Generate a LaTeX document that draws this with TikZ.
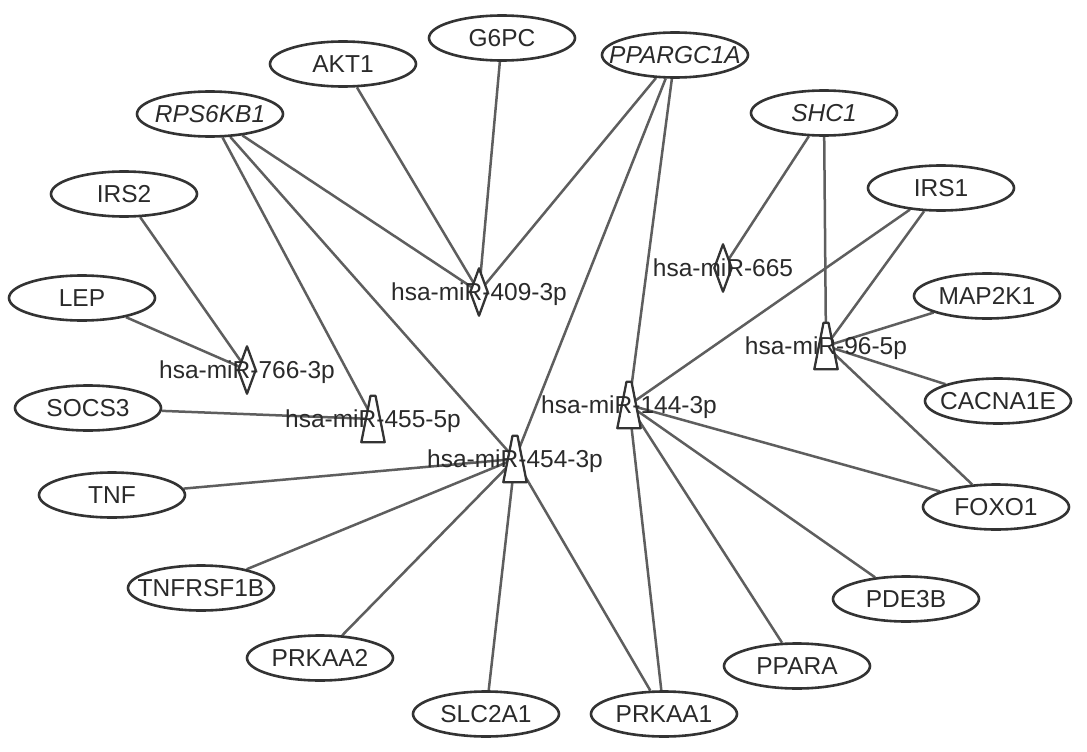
\documentclass[tikz,border=0pt]{standalone}
\usepackage{fontspec}
\setmainfont{Liberation Sans}
\usetikzlibrary{shapes.geometric}
\pgfdeclarelayer{bg}
\pgfsetlayers{bg,main}
\definecolor{edgegray}{HTML}{5E5E5E}
\definecolor{outl}{HTML}{333333}
\definecolor{txt}{HTML}{2A2A2A}
\newcommand{\zw}[1]{\makebox[0pt][c]{#1}}
\begin{document}
\begin{tikzpicture}[x=1pt,y=-1pt,
  gene/.style={ellipse, draw=outl, line width=2.6pt, fill=white,
    minimum width=146pt, minimum height=45pt, inner sep=0pt, text=txt,
    font=\fontsize{24.5}{28}\selectfont},
  mir/.style={inner sep=0pt, minimum width=17pt, minimum height=47pt, draw=none},
  mirt/.style={inner sep=0pt, minimum width=23pt, minimum height=46pt, draw=none},
  mshape/.style={draw=outl, fill=white, line width=2.3pt, line join=round},
  mlabel/.style={text=txt, inner sep=0pt, text height=17.5pt, text depth=0pt,
    font=\fontsize{24.5}{28}\selectfont},
  edge/.style={draw=edgegray, line width=2.5pt}]
\useasboundingbox (0,0) rectangle (1087,752);

% gene nodes
\node[gene] (AKT1) at (343,64) {\zw{AKT1}};
\node[gene] (G6PC) at (502,38) {\zw{G6PC}};
\node[gene] (PPARGC1A) at (675,55) {\zw{\itshape PPARGC1A}};
\node[gene] (RPS6KB1) at (210,114) {\zw{\itshape RPS6KB1}};
\node[gene] (SHC1) at (824,113) {\zw{\itshape SHC1}};
\node[gene] (IRS2) at (124,194) {\zw{IRS2}};
\node[gene] (IRS1) at (941,188) {\zw{IRS1}};
\node[gene] (LEP) at (82,298) {\zw{LEP}};
\node[gene] (MAP2K1) at (987,296) {\zw{MAP2K1}};
\node[gene] (SOCS3) at (88,408) {\zw{SOCS3}};
\node[gene] (CACNA1E) at (998,401) {\zw{CACNA1E}};
\node[gene] (TNF) at (112,495) {\zw{TNF}};
\node[gene] (FOXO1) at (996,507) {\zw{FOXO1}};
\node[gene] (TNFRSF1B) at (201,588) {\zw{TNFRSF1B}};
\node[gene] (PDE3B) at (906,599) {\zw{PDE3B}};
\node[gene] (PRKAA2) at (320,658) {\zw{PRKAA2}};
\node[gene] (PPARA) at (797,666) {\zw{PPARA}};
\node[gene] (SLC2A1) at (486,714) {\zw{SLC2A1}};
\node[gene] (PRKAA1) at (664,714) {\zw{PRKAA1}};

% miRNA nodes (shape holders)
\node[mir] (m409) at (479,292) {};
\node[mir] (m766) at (247,370) {};
\node[mir] (m665) at (723,268) {};
\node[mirt] (m455) at (373,419) {};
\node[mirt] (m454) at (515,459) {};
\node[mirt] (m144) at (629,405) {};
\node[mirt] (m96) at (826,346) {};

\begin{pgfonlayer}{bg}
\fill[white] (0,0) rectangle (1087,752);
\draw[edge] (AKT1) -- (m409.center);
\draw[edge] (G6PC) -- (m409.center);
\draw[edge] (PPARGC1A) -- (m409.center);
\draw[edge] (RPS6KB1) -- (m409.center);
\draw[edge] (RPS6KB1) -- (m455.center);
\draw[edge] (RPS6KB1) -- (m454.center);
\draw[edge] (PPARGC1A) -- (m454.center);
\draw[edge] (PPARGC1A) -- (m144.center);
\draw[edge] (SHC1) -- (m665.center);
\draw[edge] (SHC1) -- (m96.center);
\draw[edge] (IRS1) -- (m144.center);
\draw[edge] (IRS1) -- (m96.center);
\draw[edge] (IRS2) -- (m766.center);
\draw[edge] (LEP) -- (m766.center);
\draw[edge] (SOCS3) -- (m455.center);
\draw[edge] (TNF) -- (m454.center);
\draw[edge] (TNFRSF1B) -- (m454.center);
\draw[edge] (PRKAA2) -- (m454.center);
\draw[edge] (SLC2A1) -- (m454.center);
\draw[edge] (PRKAA1) -- (m454.center);
\draw[edge] (PRKAA1) -- (m144.center);
\draw[edge] (PPARA) -- (m144.center);
\draw[edge] (PDE3B) -- (m144.center);
\draw[edge] (FOXO1) -- (m144.center);
\draw[edge] (FOXO1) -- (m96.center);
\draw[edge] (MAP2K1) -- (m96.center);
\draw[edge] (CACNA1E) -- (m96.center);
\end{pgfonlayer}

% miRNA shapes
\foreach \m in {m409,m766,m665}{
  \draw[mshape] (\m.north) -- (\m.east) -- (\m.south) -- (\m.west) -- cycle;
}
\foreach \m in {m455,m454,m144,m96}{
  \draw[mshape] ([xshift=-2.5pt]\m.north) -- ([xshift=2.5pt]\m.north)
    -- (\m.south east) -- (\m.south west) -- cycle;
}

% miRNA labels
\node[mlabel] at (m409) {hsa-miR-409-3p};
\node[mlabel] at (m766) {hsa-miR-766-3p};
\node[mlabel] at (m665) {hsa-miR-665};
\node[mlabel] at (m455) {hsa-miR-455-5p};
\node[mlabel] at (m454) {hsa-miR-454-3p};
\node[mlabel] at (m144) {hsa-miR-144-3p};
\node[mlabel] at (m96) {hsa-miR-96-5p};
\end{tikzpicture}
\end{document}
